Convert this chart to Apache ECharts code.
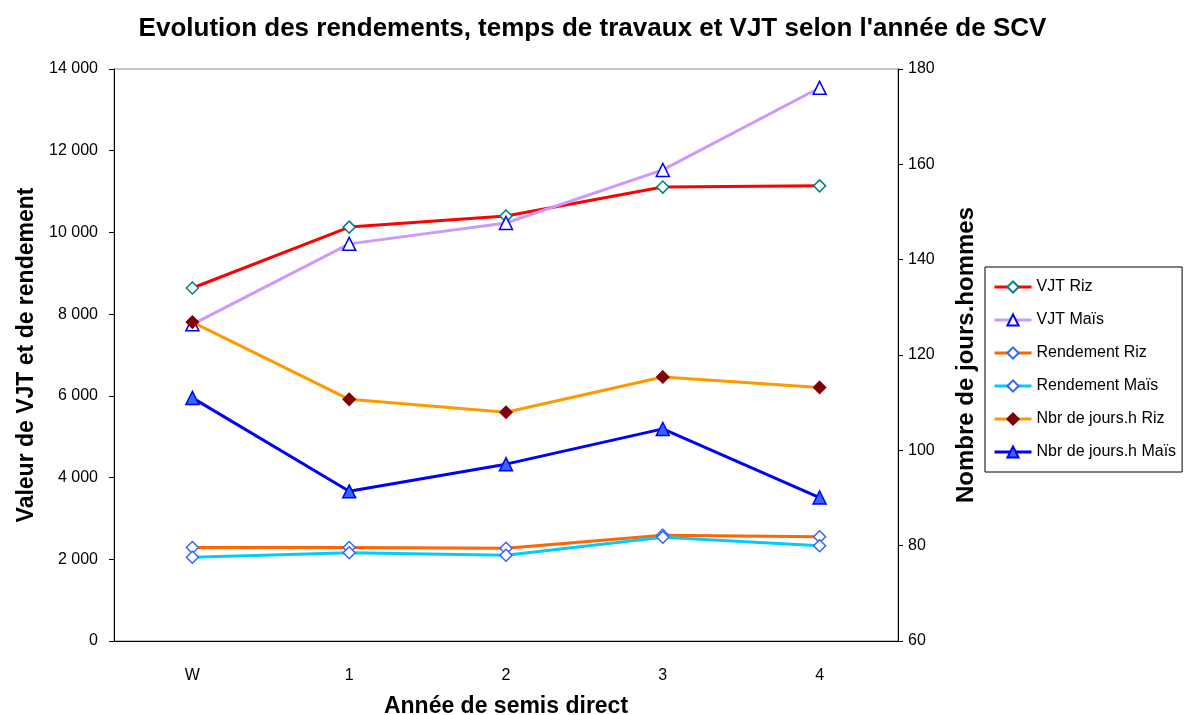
<!DOCTYPE html>
<html>
<head>
<meta charset="utf-8">
<script src="https://cdn.jsdelivr.net/npm/echarts@6/dist/echarts.min.js"></script>
<style>
  html, body { margin: 0; padding: 0; background: #fff; }
  #chart { width: 1185px; height: 715px; }
</style>
</head>
<body>
<div id="chart"></div>
<script>
// années de semis direct
const categories = ["W", "1", "2", "3", "4"];
// axe gauche : valeur VJT et rendement
const vjtRiz = [8640, 10130, 10400, 11110, 11140];
const vjtMais = [7750, 9720, 10230, 11530, 13540];
const rendementRiz = [2290, 2290, 2270, 2590, 2550];
const rendementMais = [2050, 2160, 2100, 2540, 2330];
// axe droit : nombre de jours.hommes
const joursRiz = [126.9, 110.7, 108.0, 115.4, 113.2];
const joursMais = [111.0, 91.4, 97.1, 104.5, 90.1];

const font = "Liberation Sans, Arial, sans-serif";
const fmtSpace = (v) => String(v).replace(/\B(?=(\d{3})+(?!\d))/g, " ");

function lineSerie(name, data, axis, lineColor, symbol, fill, border) {
  return {
    name: name,
    type: "line",
    yAxisIndex: axis,
    data: data,
    symbol: symbol,
    symbolSize: symbol === "triangle" ? 13 : 12,
    showAllSymbol: true,
    lineStyle: { color: lineColor, width: 3 },
    itemStyle: { color: fill, borderColor: border, borderWidth: 1.5 },
    emphasis: { disabled: true },
  };
}

const chart = echarts.init(document.getElementById("chart"));
chart.setOption({
  animation: false,
  textStyle: { fontFamily: font, color: "#000" },
  title: {
    text: "Evolution des rendements, temps de travaux et VJT selon l'année de SCV",
    left: "center",
    top: 11,
    textStyle: { fontSize: 26, fontWeight: "bold", color: "#000", fontFamily: font },
  },
  legend: {
    orient: "vertical",
    left: 985,
    top: 267,
    padding: [12, 6, 12, 8],
    itemWidth: 37,
    itemHeight: 14,
    itemGap: 17,
    borderColor: "#000",
    borderWidth: 1,
    lineStyle: { width: 3 },
    textStyle: { fontSize: 16, color: "#000", fontFamily: font },
  },
  grid: {
    left: 114,
    right: 287,
    top: 69,
    bottom: 74,
    outerBoundsMode: "none",
    show: true,
    borderColor: "#888",
    borderWidth: 1,
  },
  xAxis: {
    type: "category",
    data: categories,
    boundaryGap: true,
    name: "Année de semis direct",
    nameLocation: "middle",
    nameGap: 54,
    nameTextStyle: { fontSize: 23, fontWeight: "bold", color: "#000" },
    axisLine: { lineStyle: { color: "#000", width: 1 } },
    axisTick: { length: 5, lineStyle: { color: "#000" } },
    axisLabel: { fontSize: 16, color: "#000", margin: 27 },
    splitLine: { show: false },
  },
  yAxis: [
    {
      type: "value",
      min: 0,
      max: 14000,
      interval: 2000,
      name: "Valeur de VJT et de rendement",
      nameLocation: "middle",
      nameGap: 68,
      nameTextStyle: { fontSize: 23, fontWeight: "bold", color: "#000" },
      axisLine: { show: true, lineStyle: { color: "#000" } },
      axisTick: { show: true, length: 5, lineStyle: { color: "#000" } },
      axisLabel: { fontSize: 16, color: "#000", margin: 16, formatter: fmtSpace },
      splitLine: { show: false },
    },
    {
      type: "value",
      min: 60,
      max: 180,
      interval: 20,
      position: "right",
      name: "Nombre de jours.hommes",
      nameLocation: "middle",
      nameGap: 56,
      nameTextStyle: { fontSize: 24, fontWeight: "bold", color: "#000" },
      axisLine: { show: true, lineStyle: { color: "#000" } },
      axisTick: { show: true, length: 5, lineStyle: { color: "#000" } },
      axisLabel: { fontSize: 16, color: "#000", margin: 10 },
      splitLine: { show: false },
    },
  ],
  series: [
    lineSerie("VJT Riz", vjtRiz, 0, "#FF0000", "diamond", "#fff", "#008080"),
    lineSerie("VJT Maïs", vjtMais, 0, "#CC99FF", "triangle", "#fff", "#0000FF"),
    lineSerie("Rendement Riz", rendementRiz, 0, "#FF6600", "diamond", "#fff", "#3366FF"),
    lineSerie("Rendement Maïs", rendementMais, 0, "#00CCFF", "diamond", "#fff", "#3366FF"),
    lineSerie("Nbr de jours.h Riz", joursRiz, 1, "#FF9900", "diamond", "#800000", "#800000"),
    lineSerie("Nbr de jours.h Maïs", joursMais, 1, "#0000FF", "triangle", "#3366FF", "#0000FF"),
  ],
});
</script>
</body>
</html>
